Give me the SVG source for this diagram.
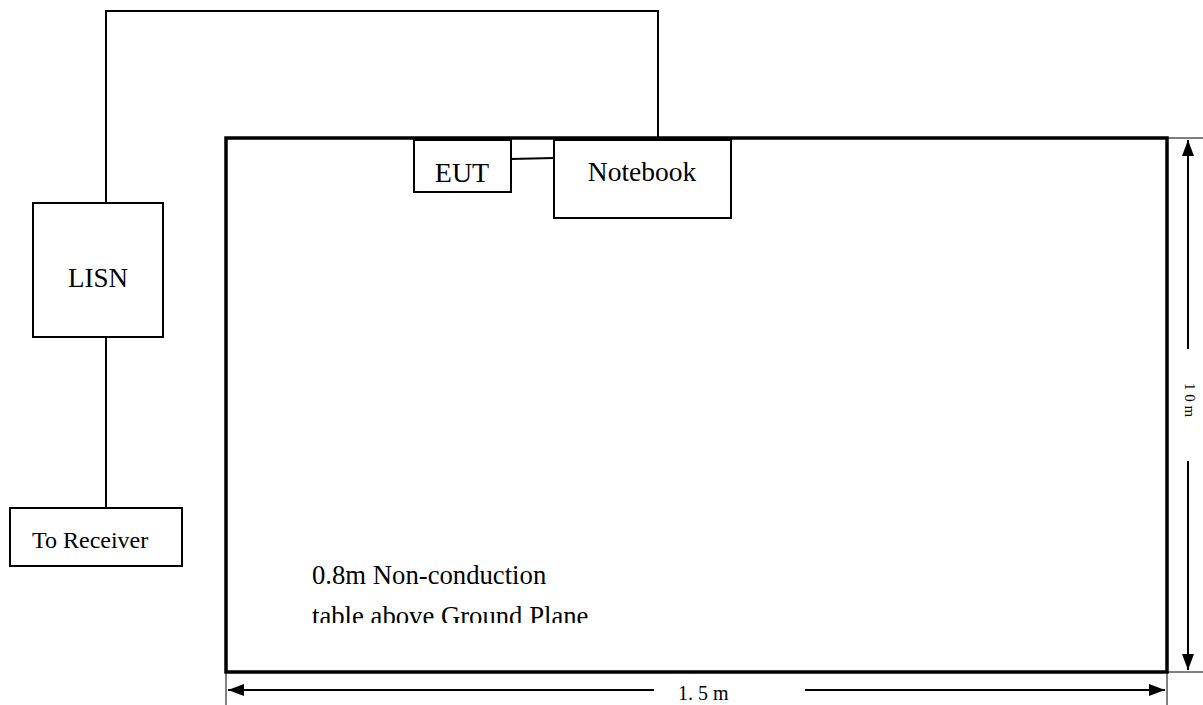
<svg xmlns="http://www.w3.org/2000/svg" width="1203" height="705" viewBox="0 0 1203 705">
<style>
.box{fill:#fff;stroke:#000;stroke-width:2}
.wire{fill:none;stroke:#000;stroke-width:2}
.thin{fill:none;stroke:#000;stroke-width:1}
.dim{fill:none;stroke:#000;stroke-width:2}
.lbl{font-family:"Liberation Serif","Times New Roman",serif;fill:#000}
</style>
<defs>
<marker id="ah" viewBox="0 0 16 12" refX="16" refY="6" markerWidth="16" markerHeight="12" markerUnits="userSpaceOnUse" orient="auto">
<path d="M0,0 L16,6 L0,12 Z" fill="#000"/>
</marker>
<clipPath id="cut"><rect x="0" y="0" width="1203" height="623"/></clipPath>
</defs>
<rect width="1203" height="705" fill="#fff"/>
<g id="table">
<rect x="226" y="138" width="941" height="534" fill="none" stroke="#000" stroke-width="3.5"/>
<text class="lbl" x="312" y="584" font-size="26.7">0.8m Non-conduction</text>
<text class="lbl" x="312" y="625" font-size="26.7" clip-path="url(#cut)">table above Ground Plane</text>
</g>
<g id="connectors">
<path class="wire" d="M106,203 V11 H658 V137"/>
<line class="wire" x1="106" y1="337" x2="106" y2="508"/>
<line class="wire" x1="511" y1="159" x2="554" y2="158"/>
</g>
<g id="dimensions">
<line class="thin" x1="1167" y1="138" x2="1203" y2="138"/>
<line class="thin" x1="1167" y1="672" x2="1203" y2="672"/>
<line class="thin" x1="1167" y1="672" x2="1167" y2="705"/>
<line class="thin" x1="226" y1="672" x2="226" y2="705"/>
<line class="dim" x1="1188" y1="349" x2="1188" y2="140" marker-end="url(#ah)"/>
<line class="dim" x1="1188" y1="461" x2="1188" y2="670" marker-end="url(#ah)"/>
<text class="lbl" font-size="15" transform="translate(1185,383) rotate(90)">1 0 m</text>
<line class="dim" x1="654" y1="690" x2="228" y2="690" marker-end="url(#ah)"/>
<line class="dim" x1="805" y1="690" x2="1165" y2="690" marker-end="url(#ah)"/>
<text class="lbl" x="678" y="700" font-size="20">1. 5 m</text>
</g>
<g id="lisn">
<rect class="box" x="33" y="203" width="130" height="134"/>
<text class="lbl" x="98" y="287" font-size="27" text-anchor="middle">LISN</text>
</g>
<g id="receiver">
<rect class="box" x="10" y="508" width="172" height="58"/>
<text class="lbl" x="32" y="548" font-size="24">To Receiver</text>
</g>
<g id="eut">
<rect class="box" x="414" y="140" width="97" height="52"/>
<text class="lbl" x="462" y="182" font-size="28" text-anchor="middle">EUT</text>
</g>
<g id="notebook">
<rect class="box" x="554" y="140" width="177" height="78"/>
<text class="lbl" x="642" y="181" font-size="27.5" text-anchor="middle">Notebook</text>
</g>
</svg>
